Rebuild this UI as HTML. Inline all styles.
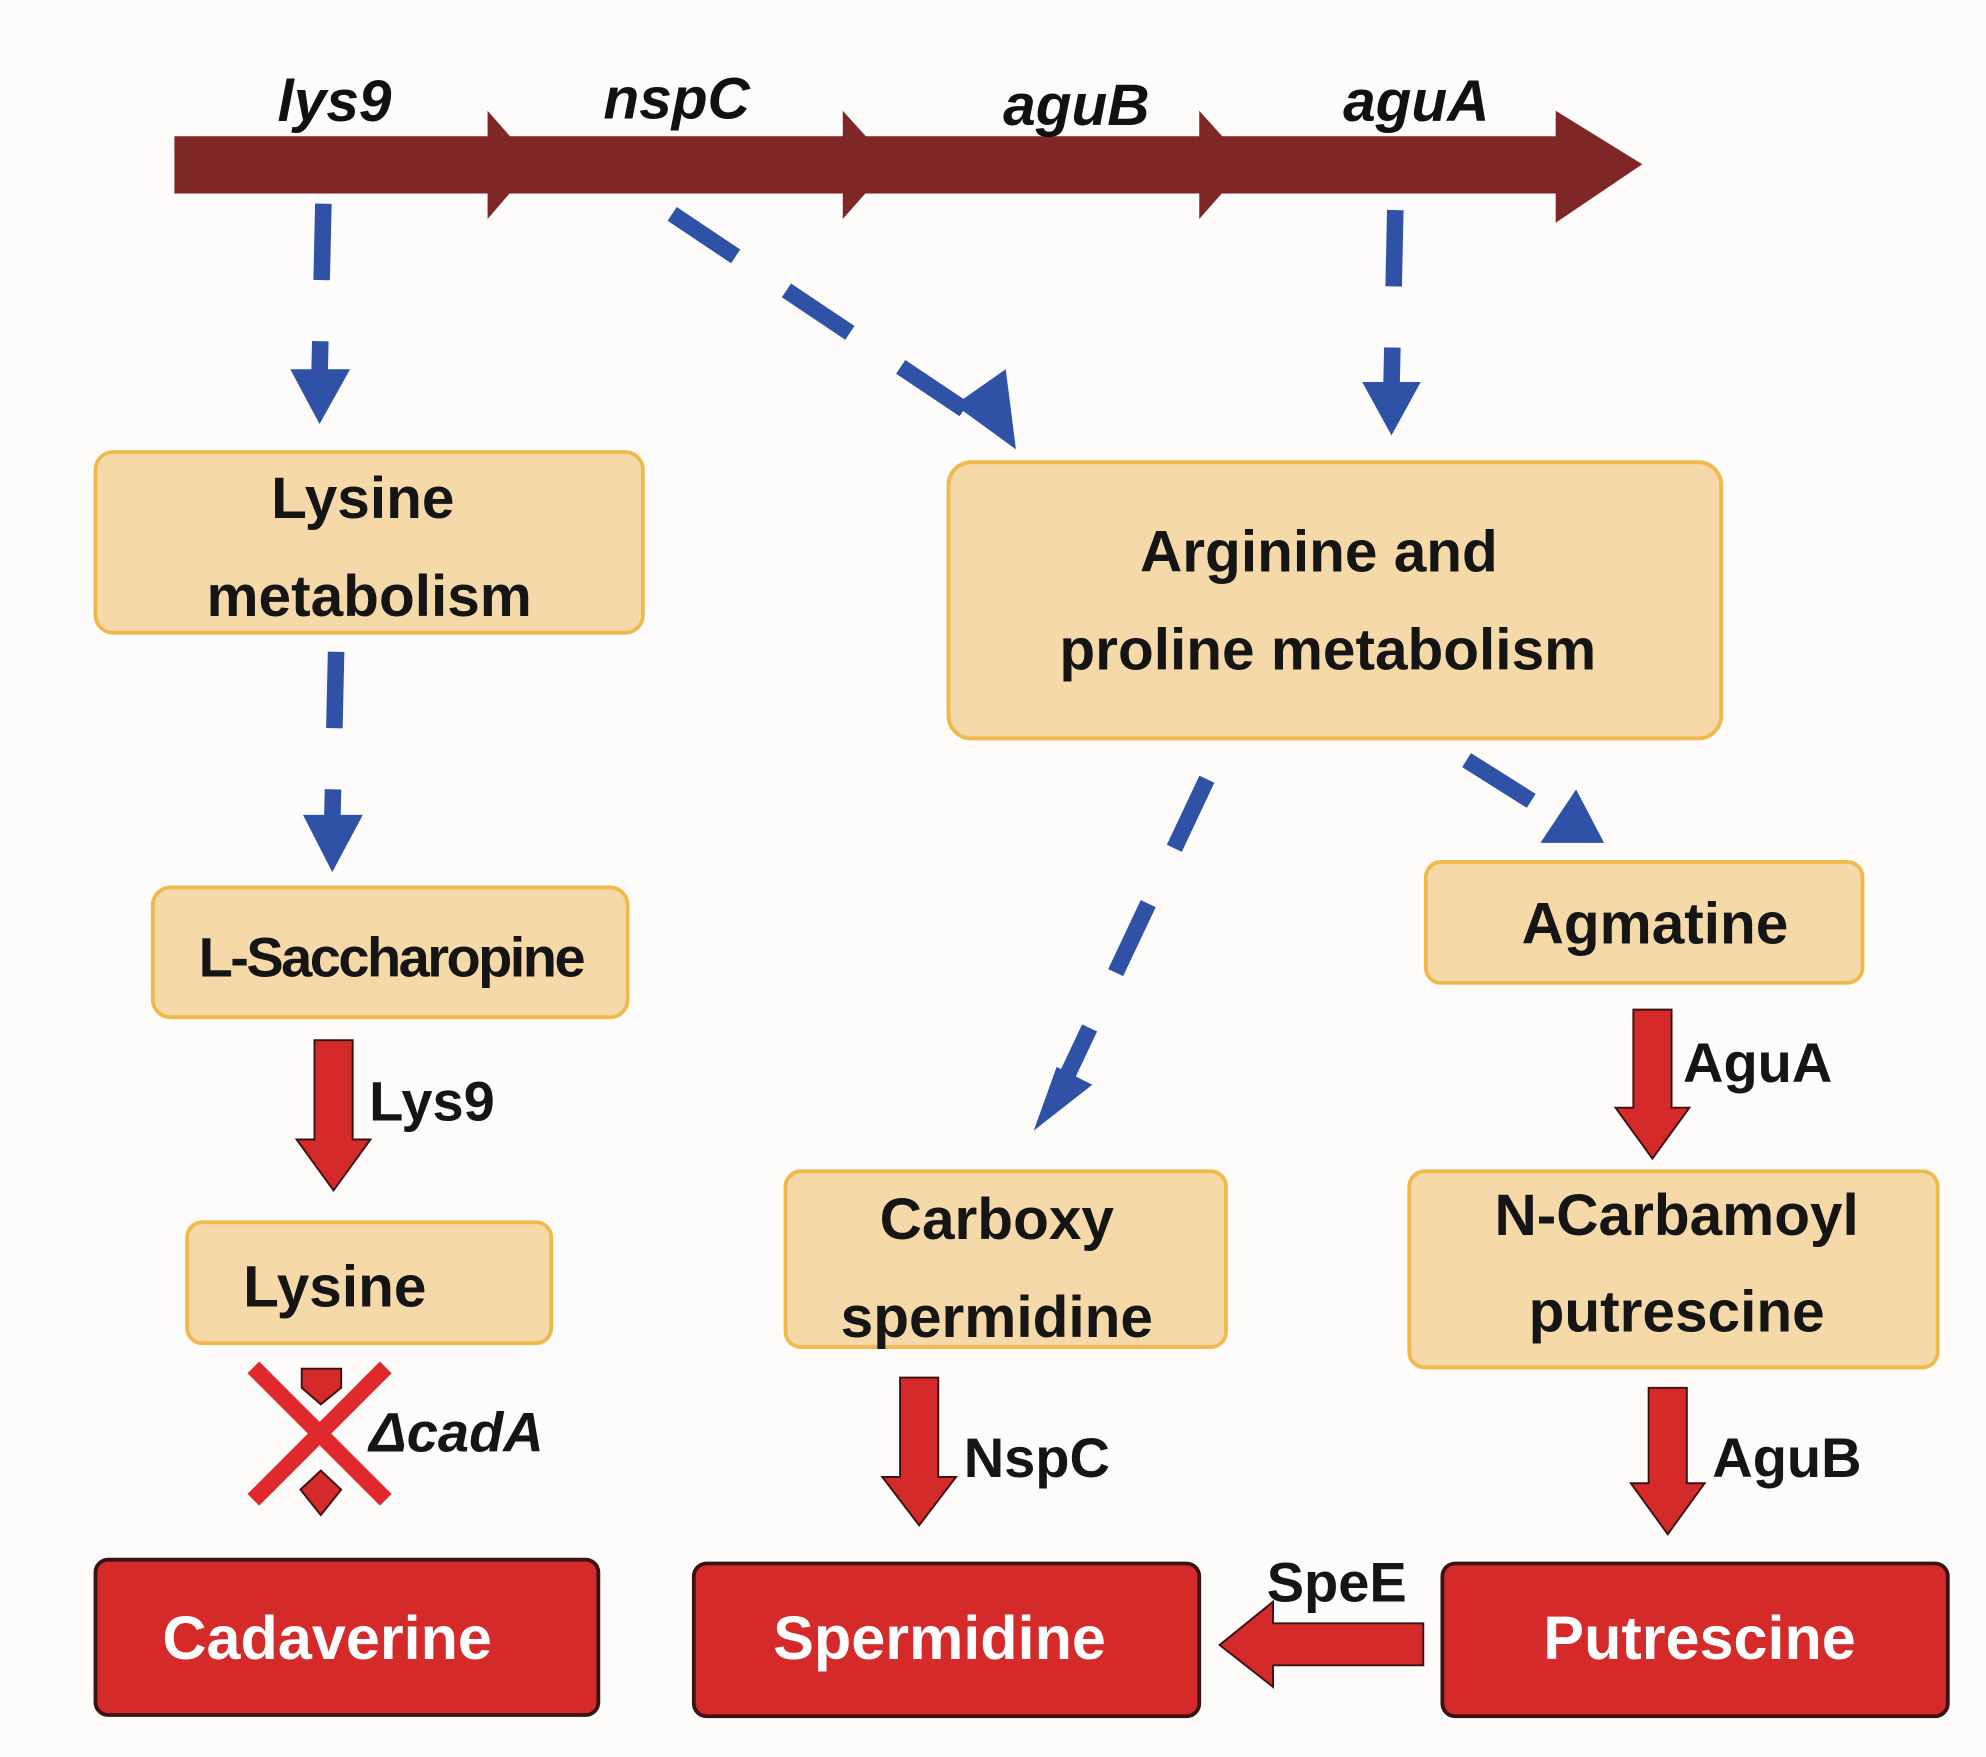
<!DOCTYPE html>
<html><head><meta charset="utf-8"><style>
html,body{margin:0;padding:0;background:#fff;}
svg{display:block;}
text{font-family:"Liberation Sans","DejaVu Sans",sans-serif;font-weight:bold;}
</style></head><body>
<svg width="1986" height="1757" viewBox="0 0 1560 1380" preserveAspectRatio="none" xmlns="http://www.w3.org/2000/svg">
<rect width="1560" height="1380" fill="#fdfcfb"/>
<!-- gene arrow -->
<g fill="#7f2626">
<rect x="137" y="107" width="1090" height="45"/>
<polygon points="383,87 420,129 383,172"/>
<polygon points="662,87 700,129 662,172"/>
<polygon points="942,87 980,129 942,172"/>
<polygon points="1222,87 1290,129 1222,175"/>
</g>
<g font-style="italic" font-size="46" fill="#111">
<text x="218" y="95">lys9</text>
<text x="474" y="93">nspC</text>
<text x="788" y="98">aguB</text>
<text x="1055" y="95">aguA</text>
</g>
<!-- blue dashed connectors -->
<g stroke="#2f52a6" stroke-width="13" fill="none" stroke-dasharray="60,48">
<line x1="254" y1="160" x2="251" y2="295"/>
<line x1="264" y1="512" x2="261" y2="645"/>
<line x1="528" y1="168" x2="770" y2="330"/>
<line x1="1096" y1="165" x2="1093" y2="305"/>
<line x1="948" y1="612" x2="832" y2="858"/>
<line x1="1152" y1="597" x2="1225" y2="643"/>
</g>
<g fill="#2f52a6">
<polygon points="228,290 275,290 251,333"/>
<polygon points="238,640 285,640 261,685"/>
<polygon points="750,318 790,290 798,353"/>
<polygon points="1070,300 1116,300 1093,342"/>
<polygon points="812,888 830,838 858,852"/>
<polygon points="1210,662 1260,662 1238,620"/>
</g>
<!-- tan boxes -->
<g fill="#f6d9a8" stroke="#efb94c" stroke-width="3">
<rect x="75" y="355" width="430" height="142" rx="14"/>
<rect x="120" y="697" width="373" height="102" rx="14"/>
<rect x="147" y="960" width="286" height="95" rx="12"/>
<rect x="745" y="363" width="607" height="217" rx="18"/>
<rect x="1120" y="677" width="343" height="95" rx="12"/>
<rect x="617" y="920" width="346" height="138" rx="12"/>
<rect x="1107" y="920" width="415" height="154" rx="12"/>
</g>
<g font-size="46" fill="#151515" text-anchor="middle">
<text x="285" y="407">Lysine</text>
<text x="290" y="484">metabolism</text>
<text x="307" y="767" font-size="44" letter-spacing="-2">L-Saccharopine</text>
<text x="263" y="1026">Lysine</text>
<text x="1036" y="449">Arginine and</text>
<text x="1043" y="526">proline metabolism</text>
<text x="1300" y="741">Agmatine</text>
<text x="783" y="973">Carboxy</text>
<text x="783" y="1050">spermidine</text>
<text x="1317" y="970">N-Carbamoyl</text>
<text x="1317" y="1046">putrescine</text>
</g>
<!-- red arrows -->
<g fill="#d42a2a" stroke="#3a1212" stroke-width="1.5">
<polygon points="247,817 277,817 277,895 291,895 262,935 233,895 247,895"/>
<polygon points="1283,793 1313,793 1313,870 1327,870 1298,910 1269,870 1283,870"/>
<polygon points="707,1082 737,1082 737,1160 751,1160 722,1198 693,1160 707,1160"/>
<polygon points="1295,1090 1325,1090 1325,1165 1339,1165 1310,1205 1281,1165 1295,1165"/>
<polygon points="1118,1275 1000,1275 1000,1258 958,1292 1000,1325 1000,1308 1118,1308"/>
<polygon points="237,1075 268,1075 268,1090 252,1103 237,1090"/>
<polygon points="236,1170 252,1155 268,1170 252,1190"/>
</g>
<g stroke="#e0292c" stroke-width="13" stroke-linecap="butt">
<line x1="199" y1="1074" x2="303" y2="1178"/>
<line x1="303" y1="1074" x2="199" y2="1178"/>
</g>
<g font-size="44" fill="#151515">
<text x="290" y="880">Lys9</text>
<text x="1322" y="850">AguA</text>
<text x="757" y="1160">NspC</text>
<text x="1345" y="1160">AguB</text>
<text x="995" y="1258">SpeE</text>
<text x="290" y="1140" font-style="italic">ΔcadA</text>
</g>
<!-- red boxes -->
<g fill="#d42a2a" stroke="#3a1414" stroke-width="3">
<rect x="75" y="1225" width="395" height="122" rx="10"/>
<rect x="545" y="1228" width="397" height="120" rx="10"/>
<rect x="1133" y="1228" width="397" height="120" rx="10"/>
</g>
<g font-size="48" fill="#fff" text-anchor="middle">
<text x="257" y="1303">Cadaverine</text>
<text x="738" y="1303">Spermidine</text>
<text x="1335" y="1303">Putrescine</text>
</g>
</svg>
</body></html>
